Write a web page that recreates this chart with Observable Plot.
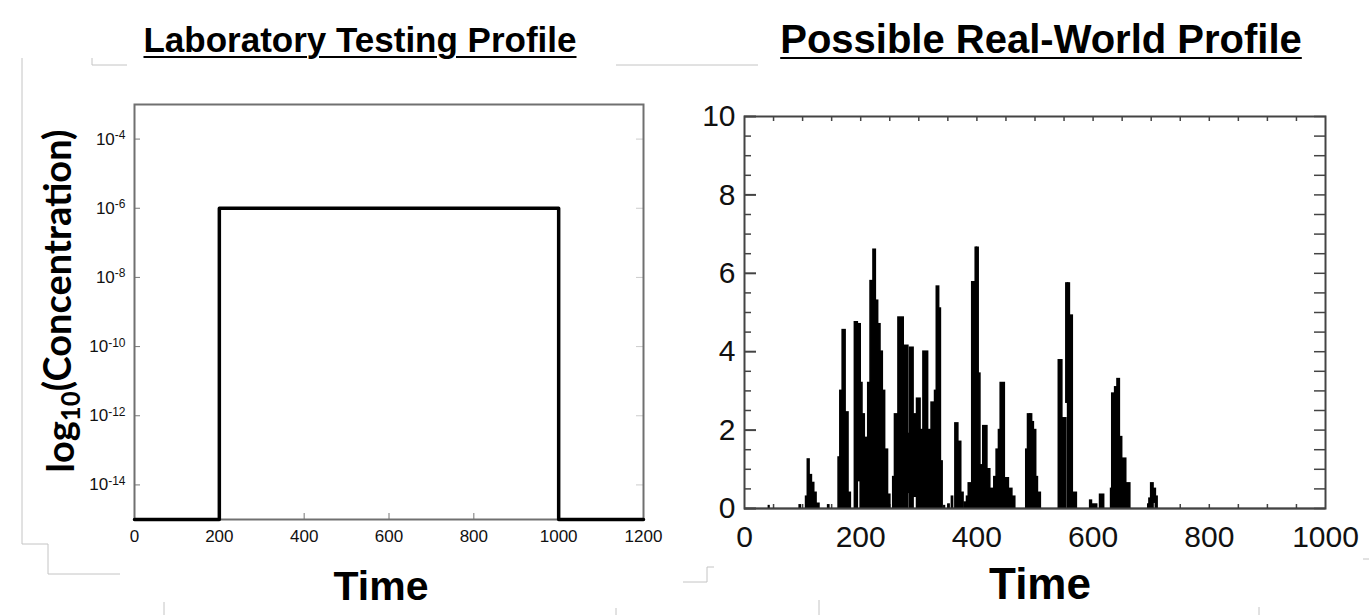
<!DOCTYPE html>
<html><head><meta charset="utf-8">
<script src="https://cdn.jsdelivr.net/npm/d3@7"></script>
<script src="https://cdn.jsdelivr.net/npm/@observablehq/plot@0.6"></script>
<style>
body{margin:0;background:#fff;}
#fig{position:relative;width:1369px;height:615px;overflow:hidden;background:#fff;font-family:"Liberation Sans",Arial,sans-serif;color:#000;}
.pl{position:absolute;top:0;}
.t{position:absolute;font-weight:bold;white-space:nowrap;line-height:1;transform:translateX(-50%);}
.u{text-decoration:underline;text-decoration-thickness:2px;text-underline-offset:4px;}
#deco{position:absolute;left:0;top:0;pointer-events:none;}
</style></head><body><div id="fig"></div>
<script>
// ---------- Left panel: laboratory testing profile ----------
const labTime = [0, 200, 1000, 1200];
const labConc = [1e-15, 1e-6, 1e-15, 1e-15];
const labXTicks = [0, 200, 400, 600, 800, 1000, 1200];
const labYTicks = [1e-14, 1e-12, 1e-10, 1e-8, 1e-6, 1e-4];
const labYExponents = ["-14", "-12", "-10", "-8", "-6", "-4"];

// ---------- Right panel: possible real-world profile (bins: start, end, low, high) ----------
const rwStart = [42, 95, 106, 109, 112, 116, 120, 124, 144,
  162, 165, 169, 174, 179,
  190, 195, 200, 203, 207, 211,
  213, 217, 222, 226, 230, 234, 238, 242, 247,
  256, 259, 265, 274, 282, 285, 291, 297, 303, 308, 316, 322, 328, 331, 335, 338,
  344, 351, 357, 363, 368, 373, 379, 383, 386,
  392, 398, 400, 403, 406, 411, 418, 423, 430, 434, 438, 441, 448, 455, 461,
  485, 488, 492, 495, 498, 502, 505,
  541, 547, 554, 557, 560, 565,
  595, 600, 612,
  631, 633, 638, 642, 646, 650, 657,
  695, 697, 700, 704, 708];
const rwEnd = [43, 97, 109, 112, 116, 120, 124, 129, 146,
  165, 169, 174, 179, 183,
  195, 200, 203, 207, 211, 213,
  217, 222, 226, 230, 234, 238, 242, 247, 251,
  259, 265, 274, 282, 285, 291, 297, 303, 308, 316, 322, 328, 331, 335, 338, 341,
  345, 353, 359, 368, 373, 377, 383, 386, 392,
  398, 400, 403, 406, 411, 418, 423, 430, 434, 438, 441, 448, 455, 461, 466,
  488, 492, 495, 498, 502, 505, 510,
  547, 554, 557, 560, 565, 572,
  598, 607, 619,
  633, 638, 642, 646, 650, 657, 664,
  696, 700, 704, 708, 711];
const rwLow = [0, 0, 0, 0, 0, 0, 0, 0, 0,
  0, 0, 0, 0, 0,
  0, 0.7, 0, 0, 0, 0,
  0, 0, 0, 0, 0, 0, 0, 0, 0,
  0, 0, 0, 0, 0.4, 0, 0.3, 0, 0, 0, 0, 0, 0, 0, 0, 0,
  0, 0, 0, 0, 0, 0, 0, 0, 0,
  0, 3.4, 0, 0, 0, 0, 0, 0, 0, 0, 0, 0, 0, 0, 0,
  0, 0, 0, 0, 0, 0, 0,
  0, 0, 2.7, 0, 0, 0,
  0, 0, 0,
  0, 0, 0, 0, 0, 0, 0,
  0, 0, 0, 0.15, 0];
const rwHigh = [0.06, 0.08, 0.3, 1.25, 0.85, 0.65, 0.4, 0.12, 0.08,
  1.3, 3.0, 4.55, 2.45, 0.4,
  4.75, 4.7, 3.2, 2.4, 1.8, 1.2,
  3.2, 5.8, 6.6, 5.3, 4.7, 4.0, 3.0, 1.5, 0.35,
  0.8, 2.4, 4.87, 4.15, 1.9, 4.1, 2.4, 2.8, 2.0, 4.0, 2.0, 2.7, 3.0, 5.66, 5.1, 1.2,
  0.06, 0.1, 0.3, 2.17, 1.7, 0.4, 0.15, 0.3, 0.64,
  5.77, 6.65, 6.65, 3.44, 1.1, 2.1, 1.0, 0.5, 0.8, 1.5, 2.0, 3.2, 0.77, 0.5, 0.3,
  1.5, 2.4, 2.4, 2.2, 2.0, 0.8, 0.4,
  3.78, 2.3, 5.74, 5.74, 4.92, 0.4,
  0.2, 0.1, 0.35,
  0.5, 2.93, 3.09, 3.3, 1.82, 1.27, 0.64,
  0.1, 0.25, 0.64, 0.5, 0.3];
const rwXTicks = [0, 200, 400, 600, 800, 1000];
const rwXMinor = [50, 100, 150, 200, 250, 300, 350, 400, 450, 500, 550, 600, 650, 700, 750, 800, 850, 900, 950];
const rwYTicks = [0, 2, 4, 6, 8, 10];
const rwYMinor = [0.5, 1, 1.5, 2.5, 3, 3.5, 4.5, 5, 5.5, 6.5, 7, 7.5, 8.5, 9, 9.5];
const rwYAll = [0, 0.5, 1, 1.5, 2, 2.5, 3, 3.5, 4, 4.5, 5, 5.5, 6, 6.5, 7, 7.5, 8, 8.5, 9, 9.5, 10];

const FONT = "'Liberation Sans', Arial, sans-serif";
const fig = document.getElementById("fig");

const labData = labTime.map((t, i) => ({t, c: labConc[i]}));
const left = Plot.plot({
  width: 670, height: 600,
  marginLeft: 134, marginRight: 27, marginTop: 104, marginBottom: 81,
  style: {fontFamily: FONT, fontSize: "18px", color: "#111", background: "transparent", overflow: "visible"},
  x: {domain: [0, 1200], label: null},
  y: {type: "log", domain: [1e-15, 1e-3], label: null},
  marks: [
    Plot.axisY(labYTicks, {anchor: "left", tickSize: -6, stroke: "#777", tickFormat: () => ""}),
    Plot.axisY(labYTicks, {anchor: "right", tickSize: -8, stroke: "#ccc", tickFormat: () => ""}),
    Plot.axisX(labXTicks, {anchor: "bottom", tickSize: -6, stroke: "#777", tickFormat: () => ""}),
    Plot.axisY(labYTicks, {anchor: "left", tickSize: 0, tickPadding: 9, fontSize: 17,
      tickFormat: d => "10|" + labYExponents[labYTicks.indexOf(d)]}),
    Plot.axisX(labXTicks, {anchor: "bottom", tickSize: 0, tickPadding: 10, fontSize: 17, tickFormat: d => String(d)}),
    Plot.frame({stroke: "#707070", strokeWidth: 2}),
    Plot.line(labData, {x: "t", y: "c", curve: "step-after", stroke: "#000", strokeWidth: 3.5})
  ]
});
left.classList.add("pl"); left.style.left = "0px";
left.querySelectorAll('g[aria-label="y-axis tick label"] text').forEach(t => {
  const s = t.textContent;
  if (!s.includes("|")) return;
  const [b, e] = s.split("|");
  t.textContent = b;
  const ts = document.createElementNS("http://www.w3.org/2000/svg", "tspan");
  ts.setAttribute("dy", "-0.45em");
  ts.setAttribute("font-size", "12px");
  ts.textContent = e;
  t.appendChild(ts);
});
fig.appendChild(left);

const rwBins = rwStart.map((s, i) => ({s, e: rwEnd[i], lo: rwLow[i], hi: rwHigh[i]}));
const right = Plot.plot({
  width: 689, height: 600,
  marginLeft: 64, marginRight: 44, marginTop: 116, marginBottom: 92,
  style: {fontFamily: FONT, fontSize: "30px", color: "#111", background: "transparent", overflow: "visible"},
  x: {domain: [0, 1000], label: null},
  y: {domain: [0, 10], label: null},
  marks: [
    Plot.axisY(rwYMinor, {anchor: "left", tickSize: -7, stroke: "#444", strokeWidth: 1.5, tickFormat: () => ""}),
    Plot.axisY(rwYTicks, {anchor: "left", tickSize: -12, stroke: "#444", strokeWidth: 2, tickFormat: () => ""}),
    Plot.axisY(rwYAll, {anchor: "right", tickSize: -12, stroke: "#444", strokeWidth: 1.5, tickFormat: () => ""}),
    Plot.axisX(rwXMinor, {anchor: "bottom", tickSize: -4, stroke: "#444", strokeWidth: 1.5, tickFormat: () => ""}),
    Plot.axisX(rwXMinor, {anchor: "top", tickSize: -4, stroke: "#444", strokeWidth: 1.5, tickFormat: () => ""}),
    Plot.axisY(rwYTicks, {anchor: "left", tickSize: 0, tickPadding: 9, fontSize: 30, tickFormat: d => String(d)}),
    Plot.axisX(rwXTicks, {anchor: "bottom", tickSize: 0, tickPadding: 17, fontSize: 30, tickFormat: d => String(d)}),
    Plot.rect(rwBins, {x1: "s", x2: "e", y1: "lo", y2: "hi", fill: "#000", stroke: "#000", strokeWidth: 1.6}),
    Plot.ruleY([0], {stroke: "#000", strokeWidth: 1.5}),
    Plot.frame({stroke: "#444", strokeWidth: 2})
  ]
});
right.classList.add("pl"); right.style.left = "680px";
fig.appendChild(right);

// titles and axis titles
function addText(txt, cls, x, top, size) {
  const d = document.createElement("div");
  d.className = cls; d.textContent = txt;
  d.style.left = x + "px"; d.style.top = top + "px"; d.style.fontSize = size + "px";
  fig.appendChild(d);
}
addText("Laboratory Testing Profile", "t u", 360, 22, 35);
addText("Possible Real-World Profile", "t u", 1041, 19, 40);
addText("Time", "t", 381, 566, 41);
addText("Time", "t", 1040, 562, 44);

// decoration overlay (faint layout lines) + rotated y title
const NS = "http://www.w3.org/2000/svg";
const deco = document.createElementNS(NS, "svg");
deco.setAttribute("id", "deco"); deco.setAttribute("width", 1369); deco.setAttribute("height", 615);
deco.innerHTML = `
<g fill="none" stroke="#c4c4c4" stroke-width="1">
<polyline points="22,58 22,544 48,544 48,574 120,574"/>
<polyline points="92,58 92,65 127,65"/>
<line x1="616" y1="65" x2="758" y2="65"/>
<line x1="164" y1="602" x2="164" y2="615"/>
<line x1="616" y1="608" x2="616" y2="615"/>
<polyline points="683,582 707,582 707,567 714,567"/>
<line x1="819" y1="600" x2="819" y2="615"/>
<line x1="1259" y1="607" x2="1259" y2="615"/>
<line x1="1363" y1="559" x2="1369" y2="559"/>
</g>
<text transform="translate(74,301) rotate(-90)" text-anchor="middle" font-family="Lato, 'Open Sans', sans-serif" font-weight="bold" font-size="38" fill="#000">log<tspan dy="0.22em" font-size="0.68em">10</tspan><tspan dy="-0.22em">(Concentration)</tspan></text>`;
fig.appendChild(deco);
</script></body></html>
